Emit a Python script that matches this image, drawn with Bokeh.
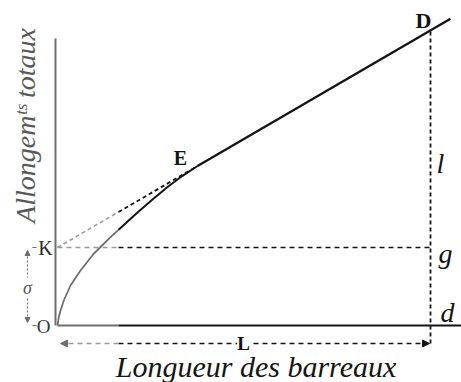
from bokeh.plotting import figure
from bokeh.models import Range1d, Arrow, NormalHead, Label
from bokeh.embed import file_html
from bokeh.resources import INLINE

# ---- data (diagram units, origin at O) ----
L_len = 373          # Longueur des barreaux (O -> d)
K_len = 78           # sigma (O -> K)
D_height = 295       # height of D above d
tangent_x = 140      # where the curve joins the straight line (near E)
line_end_x = 393     # end of the straight line beyond D
axis_top = 287       # top of the vertical axis
axis_right = 404     # end of the horizontal axis
gray_limit = 61      # left band printed lighter in the original

curve_x = [0, 1.3, 3, 6.3, 13, 23, 36, 43, 53, 63, 80, 95, 110, 125, 140]
curve_y = [0, 8.3, 15, 25, 40, 55, 71.5, 78.5, 88.3, 97.5, 113, 126, 138.5, 149.7, 159.5]

labels = ["O", "K", "D", "E", "L", "l", "g", "d", "σ"]

slope = (D_height - K_len) / L_len


def line_y(x):
    return K_len + slope * x


BLACK = "#141414"
GRAY = "#6f6f6f"
LGRAY = "#9a9a9a"
SERIF = "Liberation Serif"

p = figure(width=461, height=382, output_backend="svg", toolbar_location=None,
           x_range=Range1d(-57, 404), y_range=Range1d(-57, 325),
           min_border=0, min_border_left=0, min_border_right=0,
           min_border_top=0, min_border_bottom=0)
p.axis.visible = False
p.grid.visible = False
p.outline_line_color = None
p.background_fill_color = "white"
p.border_fill_color = "white"

# axes
p.line([-2, -2], [0, axis_top], line_color=GRAY, line_width=2)
p.line([0, gray_limit], [0, 0], line_color=GRAY, line_width=2)
p.line([gray_limit, axis_right], [0, 0], line_color=BLACK, line_width=2)

# curve (split at the gray band)
for i in range(len(curve_x) - 1):
    if curve_x[i] <= gray_limit <= curve_x[i + 1]:
        t = (gray_limit - curve_x[i]) / (curve_x[i + 1] - curve_x[i])
        y_lim = curve_y[i] + t * (curve_y[i + 1] - curve_y[i])
cx_g = [x for x in curve_x if x < gray_limit] + [gray_limit]
cy_g = [y for x, y in zip(curve_x, curve_y) if x < gray_limit] + [y_lim]
p.line(cx_g, cy_g, line_color=GRAY, line_width=1.8)
cx_b = [gray_limit] + [x for x in curve_x if x > gray_limit]
cy_b = [y_lim] + [y for x, y in zip(curve_x, curve_y) if x > gray_limit]
p.line(cx_b, cy_b, line_color=BLACK, line_width=2)

# dashed tangent K -> E
p.line([0, gray_limit], [K_len, line_y(gray_limit)], line_color=LGRAY,
       line_width=1.6, line_dash="4 3")
p.line([gray_limit, tangent_x], [line_y(gray_limit), line_y(tangent_x)],
       line_color=BLACK, line_width=1.8, line_dash="4 3")

# straight line E -> D and beyond
p.line([tangent_x, line_end_x], [line_y(tangent_x), line_y(line_end_x)],
       line_color=BLACK, line_width=2.3)

# horizontal dashed K -> g
p.line([0, gray_limit], [K_len, K_len], line_color=LGRAY,
       line_width=1.6, line_dash="5 4")
p.line([gray_limit, L_len], [K_len, K_len], line_color=BLACK,
       line_width=1.5, line_dash="5 4")

# vertical dashed D -> bottom
p.line([L_len, L_len], [-18, D_height], line_color=BLACK,
       line_width=1.8, line_dash="4 3")

# L arrow
p.add_layout(Arrow(x_start=gray_limit, y_start=-18, x_end=L_len - 1, y_end=-18,
                   line_color=BLACK, line_width=1.5, line_dash="5 4",
                   end=NormalHead(size=7, fill_color=BLACK, line_color=BLACK)))
p.add_layout(Arrow(x_start=gray_limit, y_start=-18, x_end=3, y_end=-18,
                   line_color=LGRAY, line_width=1.5, line_dash="5 4",
                   end=NormalHead(size=7, fill_color=GRAY, line_color=GRAY)))

# sigma arrow
p.add_layout(Arrow(x_start=-30, y_start=K_len / 2, x_end=-30, y_end=K_len - 3,
                   line_color=GRAY, line_width=1.2, line_dash="2 2",
                   end=NormalHead(size=5, fill_color=GRAY, line_color=GRAY)))
p.add_layout(Arrow(x_start=-30, y_start=K_len / 2, x_end=-30, y_end=3,
                   line_color=GRAY, line_width=1.2, line_dash="2 2",
                   end=NormalHead(size=5, fill_color=GRAY, line_color=GRAY)))
p.line([-25, -21], [K_len, K_len], line_color=GRAY, line_width=1.2)
p.line([-25, -21], [0, 0], line_color=GRAY, line_width=1.2)


def lab(x, y, t, size, style="normal", color=BLACK, bg=None):
    p.add_layout(Label(x=x, y=y, text=t, text_font=SERIF, text_font_size=f"{size}px",
                       text_font_style=style, text_color=color,
                       text_align="center", text_baseline="middle",
                       background_fill_color=bg))


lab(-14, -1, labels[0], 19, "normal", "#333333")
lab(-12, K_len, labels[1], 20, "normal", "#2a2a2a")
lab(L_len - 7, line_y(L_len) + 10, labels[2], 22, "bold")
lab(123, 168, labels[3], 20, "bold")
lab(186, -18, labels[4], 19, "bold", bg="white")
lab(L_len + 10, 162, labels[5], 28, "italic")
lab(L_len + 15, K_len - 6, labels[6], 28, "italic")
lab(L_len + 17, 13, labels[7], 28, "italic")
lab(-30, K_len / 2 - 1, labels[8], 18, "italic", "#555555", bg="white")

# axis titles
p.add_layout(Label(x=-32, y=200, text="Allongemᵗˢ totaux", text_font=SERIF,
                   text_font_size="28px", text_font_style="italic", text_color="#585858",
                   angle=90, angle_units="deg", text_align="center", text_baseline="middle"))
p.add_layout(Label(x=L_len / 2 + 12, y=-41, text="Longueur des barreaux", text_font=SERIF,
                   text_font_size="30px", text_font_style="italic", text_color=BLACK,
                   text_align="center", text_baseline="middle"))

open("out.html", "w").write(file_html(p, INLINE))
